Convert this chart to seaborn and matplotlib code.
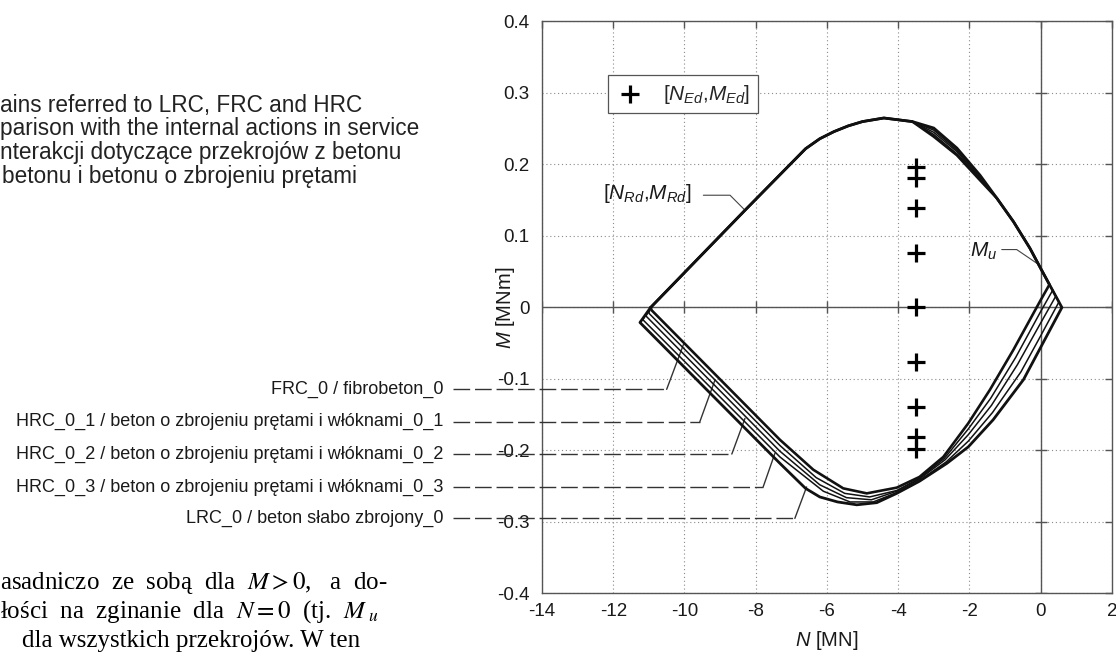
import matplotlib
matplotlib.use("Agg")
import matplotlib.pyplot as plt
import seaborn as sns
import pandas as pd

# Krzywe interakcji N-M

# gorna galaz - wspolna czesc lewa
up_left_n = [-10.95, -8.30, -6.60, -6.20, -5.80, -5.40, -5.00, -4.40, -3.60]
up_left_m = [0.000, 0.136, 0.222, 0.236, 0.246, 0.254, 0.260, 0.265, 0.260]

# gorna galaz - czesc gdzie krzywe sie rozchodza
up_mid_n = [-3.00, -2.35, -1.70]
up_mid_frc = [0.239, 0.213, 0.178]
up_mid_hrc1 = [0.242, 0.215, 0.180]
up_mid_hrc2 = [0.245, 0.218, 0.181]
up_mid_hrc3 = [0.248, 0.220, 0.183]
up_mid_lrc = [0.251, 0.223, 0.185]

# gorna galaz - wspolna czesc prawa
up_right_n = [-1.23, -0.76, -0.30, 0.00]
up_right_m = [0.153, 0.120, 0.083, 0.055]

# dolne galezie (od prawej do lewej)
low_frc_n = [0.25, 0.00, -0.76, -1.42, -2.03, -2.73, -3.40, -4.04, -4.88, -5.54, -6.38, -7.32, -10.92]
low_frc_m = [0.032, 0.010, -0.059, -0.115, -0.162, -0.209, -0.237, -0.252, -0.260, -0.253, -0.227, -0.185, -0.004]

low_hrc1_n = [0.34, 0.00, -0.70, -1.40, -2.03, -2.70, -3.40, -4.04, -4.80, -5.50, -6.30, -7.32, -11.00]
low_hrc1_m = [0.024, -0.006, -0.070, -0.127, -0.170, -0.211, -0.239, -0.256, -0.265, -0.260, -0.238, -0.193, -0.008]

low_hrc2_n = [0.43, 0.00, -0.65, -1.38, -2.03, -2.68, -3.40, -4.04, -4.75, -5.45, -6.20, -7.32, -11.08]
low_hrc2_m = [0.016, -0.022, -0.080, -0.137, -0.178, -0.213, -0.240, -0.257, -0.269, -0.266, -0.248, -0.201, -0.012]

low_hrc3_n = [0.52, 0.00, -0.55, -1.35, -2.03, -2.65, -3.40, -4.04, -4.70, -5.35, -6.10, -7.32, -11.17]
low_hrc3_m = [0.008, -0.040, -0.090, -0.147, -0.187, -0.216, -0.242, -0.259, -0.272, -0.272, -0.257, -0.209, -0.017]

low_lrc_n = [0.60, -0.48, -1.33, -2.03, -2.63, -3.40, -4.04, -4.60, -5.16, -5.70, -6.20, -6.60, -7.32, -11.25]
low_lrc_m = [0.000, -0.101, -0.157, -0.195, -0.218, -0.243, -0.260, -0.273, -0.276, -0.272, -0.265, -0.253, -0.218, -0.021]

# sily wewnetrzne [N_Ed, M_Ed]
n_ed = [-3.5, -3.5, -3.5, -3.5, -3.5, -3.5, -3.5, -3.5, -3.5]
m_ed = [0.197, 0.181, 0.139, 0.076, 0.0, -0.076, -0.139, -0.181, -0.198]

x_ticks = [-14, -12, -10, -8, -6, -4, -2, 0, 2]
x_tick_labels = ["-14", "-12", "-10", "-8", "-6", "-4", "-2", "0", "2"]
y_ticks = [-0.4, -0.3, -0.2, -0.1, 0.0, 0.1, 0.2, 0.3, 0.4]
y_tick_labels = ["-0.4", "-0.3", "-0.2", "-0.1", "0", "0.1", "0.2", "0.3", "0.4"]

nazwy = ["FRC_0 / fibrobeton_0",
         "HRC_0_1 / beton o zbrojeniu prętami i włóknami_0_1",
         "HRC_0_2 / beton o zbrojeniu prętami i włóknami_0_2",
         "HRC_0_3 / beton o zbrojeniu prętami i włóknami_0_3",
         "LRC_0 / beton słabo zbrojony_0"]

# linie odniesienia: wysokosc etykiety, zalamanie, koniec na krzywej
lead_m = [-0.1145, -0.160, -0.205, -0.251, -0.295]
lead_knee_n = [-10.50, -9.57, -8.67, -7.79, -6.90]
lead_end_n = [-10.03, -9.14, -8.30, -7.46, -6.57]
lead_end_m = [-0.052, -0.101, -0.155, -0.204, -0.251]


# Styl

sns.set_style("white")
plt.rcParams["font.family"] = ["Liberation Sans", "DejaVu Sans"]
plt.rcParams["mathtext.fontset"] = "custom"
plt.rcParams["mathtext.rm"] = "Liberation Sans"
plt.rcParams["mathtext.it"] = "Liberation Sans:italic"
plt.rcParams["axes.unicode_minus"] = False

fig = plt.figure(figsize=(11.16, 6.57), dpi=100)
ax = fig.add_axes([0.4857, 0.0967, 0.5105, 0.8706])


# Krzywe

krzywe = [
    (up_mid_frc, low_frc_n, low_frc_m, 1.9),
    (up_mid_hrc1, low_hrc1_n, low_hrc1_m, 1.1),
    (up_mid_hrc2, low_hrc2_n, low_hrc2_m, 1.1),
    (up_mid_hrc3, low_hrc3_n, low_hrc3_m, 1.1),
    (up_mid_lrc, low_lrc_n, low_lrc_m, 2.0),
]

for mid_m, low_n, low_m, lw in krzywe:
    n = up_left_n + up_mid_n + up_right_n + low_n + [up_left_n[0]]
    m = up_left_m + mid_m + up_right_m + low_m + [up_left_m[0]]
    df = pd.DataFrame({"N": n, "M": m})
    sns.lineplot(data=df, x="N", y="M", sort=False, estimator=None,
                 color="#111111", lw=lw, ax=ax, zorder=4)

sns.scatterplot(x=n_ed, y=m_ed, marker="+", s=150, color="black",
                linewidth=2.3, ax=ax, zorder=5, label=r"[$N_{Ed}$,$M_{Ed}$]")


# Osie i siatka

ax.set_xlim(-14, 2)
ax.set_ylim(-0.4, 0.4)
ax.set_xticks(x_ticks)
ax.set_xticklabels(x_tick_labels)
ax.set_yticks(y_ticks)
ax.set_yticklabels(y_tick_labels)
ax.grid(True, linestyle=(0, (1, 2.5)), color="#8a8a8a", lw=0.8)
ax.axhline(0, color="#555555", lw=1.0, zorder=2)
ax.axvline(0, color="#555555", lw=1.0, zorder=2)
ax.plot(x_ticks, [0] * len(x_ticks), ls="none", marker="|", ms=9, mew=1.0, color="#555555", zorder=2)
ax.plot([0] * len(y_ticks), y_ticks, ls="none", marker="_", ms=9, mew=1.0, color="#555555", zorder=2)

for s in ax.spines.values():
    s.set_color("#555555")
    s.set_linewidth(1.0)
ax.tick_params(direction="in", length=5, width=1.0, color="#555555",
               top=True, right=True, labelsize=13.5, labelcolor="#1a1a1a")
ax.tick_params(axis="x", pad=7)
ax.tick_params(axis="y", pad=9)

ax.set_xlabel(r"$N$ [MN]", fontsize=14.5, color="#1a1a1a")
ax.set_ylabel(r"$M$ [MNm]", fontsize=14.5, color="#1a1a1a")
ax.xaxis.set_label_coords(0.5, -0.083)
ax.xaxis.label.set_va("center")
ax.yaxis.set_label_coords(-0.065, 0.5)
ax.yaxis.label.set_va("center")

leg = ax.legend(loc="upper left", bbox_to_anchor=(0.116, 0.906), borderaxespad=0,
                fancybox=False, edgecolor="#555555", framealpha=1, fontsize=15,
                handletextpad=0.9, borderpad=0.35, handlelength=1.4)
leg.get_frame().set_linewidth(0.9)


# Opisy na wykresie

ax.text(-9.80, 0.160, r"[$N_{Rd}$,$M_{Rd}$]", ha="right", va="center", fontsize=15, color="#1a1a1a")
ax.plot([-9.47, -8.72, -8.30], [0.157, 0.157, 0.136], color="#444444", lw=0.8, zorder=3)

ax.text(-1.23, 0.078, r"$M_u$", ha="right", va="center", fontsize=15, color="#1a1a1a")
ax.plot([-1.09, -0.67, -0.11], [0.081, 0.081, 0.062], color="#444444", lw=0.8, zorder=3)

for i in range(5):
    ax.text(-16.78, lead_m[i], nazwy[i], ha="right", va="center",
            fontsize=13, color="#1a1a1a", clip_on=False)
    ax.plot([-16.49, lead_knee_n[i]], [lead_m[i], lead_m[i]], color="#333333",
            lw=1.0, ls=(0, (12, 3.5)), clip_on=False, zorder=3)
    ax.plot([lead_knee_n[i], lead_end_n[i]], [lead_m[i], lead_end_m[i]],
            color="#333333", lw=1.0, clip_on=False, zorder=3)


# Fragmenty tekstu ze strony

podpis = ["ains referred to LRC, FRC and HRC",
          "parison with the internal actions in service",
          "nterakcji dotyczące przekrojów z betonu",
          "betonu i betonu o zbrojeniu prętami"]
podpis_x = [0, 0, 0, 2]
podpis_y = [112, 135.5, 159, 182.5]
for t, x, y in zip(podpis, podpis_x, podpis_y):
    fig.text(x / 1116, 1 - y / 657, t, ha="left", va="baseline", fontsize=16.3, color="#222222")

tekst = [r"asadniczo  ze  sobą  dla  $M > 0$,   a  do-",
         r"łości  na  zginanie  dla  $N = 0$  (tj.  $M_{\ u}$",
         "dla wszystkich przekrojów. W ten"]
tekst_x = [0, 0, 22]
tekst_y = [589, 618, 647]
for t, x, y in zip(tekst, tekst_x, tekst_y):
    fig.text(x / 1116, 1 - y / 657, t, ha="left", va="baseline", fontsize=18,
             family="Liberation Serif", math_fontfamily="stix", color="black")

fig.savefig("out.png", dpi=100)
